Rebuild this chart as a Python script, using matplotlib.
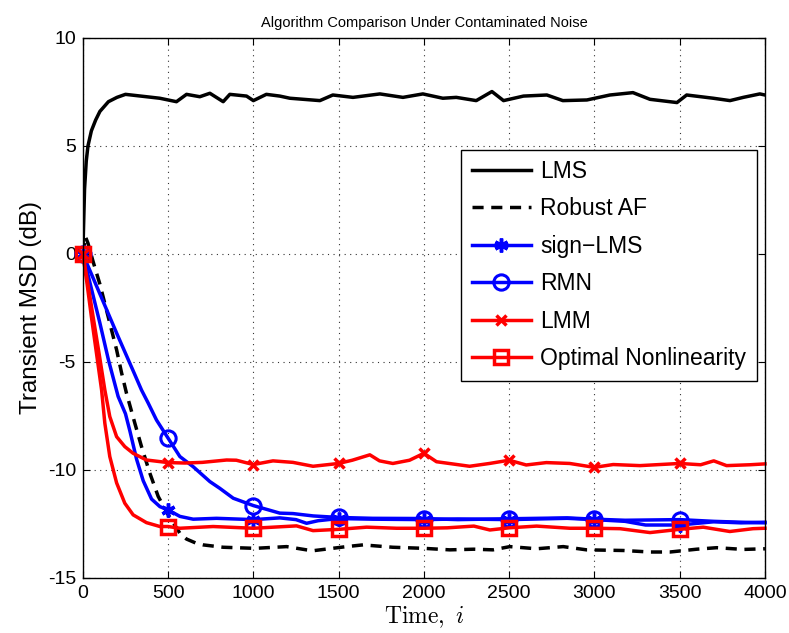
import matplotlib
matplotlib.use("Agg")
import matplotlib.pyplot as plt
import numpy as np

plt.rcParams['font.family'] = ['Liberation Sans', 'DejaVu Sans']
plt.rcParams['axes.unicode_minus'] = False
plt.rcParams['mathtext.fontset'] = 'cm'

# ---- data ----
t_lms = [0,5,10,20,30,50,75,100,150,200,250,373,451,549,608,686,745,823,862,960,1000,1076,1155,1214,1390,1466,1584,1742,1877,1994,2111,2190,2307,2399,2467,2584,2721,2815,2956,3091,3226,3326,3484,3541,3697,3795,3873,3970,4000]
v_lms = [0,1.5,3.0,4.3,5.0,5.7,6.2,6.6,7.05,7.25,7.39,7.28,7.21,7.05,7.39,7.28,7.44,7.05,7.39,7.31,7.10,7.39,7.31,7.21,7.10,7.36,7.25,7.41,7.25,7.41,7.21,7.25,7.10,7.52,7.10,7.31,7.36,7.10,7.13,7.36,7.47,7.16,7.01,7.36,7.21,7.10,7.25,7.41,7.36]

t_raf = [0,15,30,60,100,158,198,227,256,305,344,393,442,501,569,608,667,705,823,1009,1195,1311,1350,1546,1643,1818,2000,2152,2293,2405,2504,2661,2817,2954,3170,3326,3443,3600,3717,3873,4000]
v_raf = [0,0.8,0.5,-0.35,-1.4,-3.2,-4.44,-5.5,-6.45,-7.84,-8.92,-10.15,-11.23,-12.08,-12.93,-13.2,-13.4,-13.47,-13.58,-13.63,-13.55,-13.7,-13.74,-13.55,-13.47,-13.58,-13.63,-13.7,-13.67,-13.7,-13.55,-13.65,-13.55,-13.7,-13.73,-13.8,-13.8,-13.67,-13.6,-13.68,-13.65]

t_sign = [0,50,100,150,207,250,276,300,315,354,403,452,500,569,647,784,1000,1155,1250,1312,1380,1500,1700,2000,2200,2500,2840,3000,3180,3300,3500,3700,3860,4000]
v_sign = [0,-1.6,-3.2,-4.9,-6.6,-7.4,-8.2,-9.0,-9.5,-10.5,-11.35,-11.7,-11.85,-12.15,-12.28,-12.24,-12.3,-12.22,-12.3,-12.47,-12.35,-12.25,-12.28,-12.3,-12.27,-12.3,-12.24,-12.3,-12.38,-12.55,-12.55,-12.4,-12.45,-12.42]

t_rmn = [0,100,200,300,344,383,432,500,569,647,745,803,882,1000,1155,1232,1351,1500,1700,2000,2200,2500,2840,3000,3180,3500,3700,3860,4000]
v_rmn = [0,-1.85,-3.7,-5.5,-6.3,-6.9,-7.69,-8.53,-9.38,-9.85,-10.54,-10.85,-11.31,-11.65,-12.0,-12.02,-12.13,-12.2,-12.24,-12.25,-12.3,-12.26,-12.22,-12.28,-12.33,-12.3,-12.38,-12.42,-12.45]

t_lmm = [0,30,60,95,129,158,198,246,295,373,500,600,700,843,900,1000,1115,1232,1350,1500,1580,1683,1740,1818,1916,2000,2074,2111,2268,2385,2500,2600,2718,2855,3000,3110,3267,3384,3500,3623,3700,3775,3912,4000]
v_lmm = [0,-1.4,-2.9,-4.6,-6.3,-7.53,-8.46,-8.92,-9.23,-9.54,-9.66,-9.68,-9.65,-9.54,-9.55,-9.75,-9.58,-9.65,-9.83,-9.7,-9.55,-9.3,-9.58,-9.7,-9.55,-9.23,-9.62,-9.66,-9.83,-9.7,-9.55,-9.77,-9.66,-9.7,-9.88,-9.75,-9.8,-9.75,-9.7,-9.76,-9.58,-9.8,-9.76,-9.72]

t_opt = [0,25,50,80,110,129,158,198,246,295,373,452,500,569,764,1000,1253,1350,1500,1664,1840,2000,2137,2293,2387,2500,2661,2856,3000,3150,3326,3500,3638,3794,3930,4000]
v_opt = [0,-1.4,-2.9,-4.6,-6.3,-7.84,-9.38,-10.6,-11.54,-12.08,-12.44,-12.62,-12.62,-12.7,-12.62,-12.7,-12.59,-12.81,-12.75,-12.65,-12.7,-12.7,-12.68,-12.6,-12.78,-12.68,-12.6,-12.7,-12.7,-12.72,-12.9,-12.75,-12.65,-12.85,-12.72,-12.7]

marker_times = [0,500,1000,1500,2000,2500,3000,3500]
labels = ['LMS', 'Robust AF', 'sign\u2212LMS', 'RMN', 'LMM', 'Optimal Nonlinearity']
xticks = [0,500,1000,1500,2000,2500,3000,3500,4000]
yticks = [-15,-10,-5,0,5,10]

def mk(t):
    return [t.index(m) for m in marker_times]

fig = plt.figure(figsize=(7.89, 6.33), dpi=100)
ax = fig.add_axes([0.105, 0.087, 0.8645, 0.853])

lw = 2.5
asterisk = (6, 2, 0)
ax.plot(t_lms, v_lms, color='black', lw=lw, label=labels[0])
ax.plot(t_raf, v_raf, color='black', lw=lw, dashes=(3.2, 2.2), label=labels[1])
ax.plot(t_sign, v_sign, color='blue', lw=lw, marker=asterisk, ms=10, mew=2.5,
        markevery=mk(t_sign), label=labels[2], clip_on=False)
ax.plot(t_rmn, v_rmn, color='blue', lw=lw, marker='o', ms=11, mew=2.2, mfc='none',
        markevery=mk(t_rmn), label=labels[3], clip_on=False)
ax.plot(t_lmm, v_lmm, color='red', lw=lw, marker='x', ms=7, mew=2.5,
        markevery=mk(t_lmm), label=labels[4], clip_on=False)
ax.plot(t_opt, v_opt, color='red', lw=lw, marker='s', ms=10, mew=2.5, mfc='none',
        markevery=mk(t_opt), label=labels[5], clip_on=False)

ax.set_xlim(0, 4000)
ax.set_ylim(-15, 10)
ax.set_xticks(xticks)
ax.set_yticks(yticks)
ax.tick_params(direction='in', length=5, top=True, right=True, labelsize=14, pad=5)
ax.grid(True, linestyle=(0, (1, 4)), color='black', linewidth=0.8, alpha=0.8)
for s in ax.spines.values():
    s.set_linewidth(1.0)

ax.set_title('Algorithm Comparison Under Contaminated Noise', fontsize=10.5, pad=8)
ax.set_ylabel('Transient MSD (dB)', fontsize=17.5, labelpad=4)
ax.set_xlabel(r'$\mathrm{Time,}\ i$', fontsize=17, labelpad=2)

leg = ax.legend(loc='upper right', bbox_to_anchor=(0.988, 0.793), fontsize=16.5,
                handlelength=2.6, handletextpad=0.4, labelspacing=0.63,
                borderpad=0.45, borderaxespad=0, fancybox=False, framealpha=1,
                edgecolor='black')
leg.get_frame().set_linewidth(1.0)

fig.savefig('out.png', dpi=100)
